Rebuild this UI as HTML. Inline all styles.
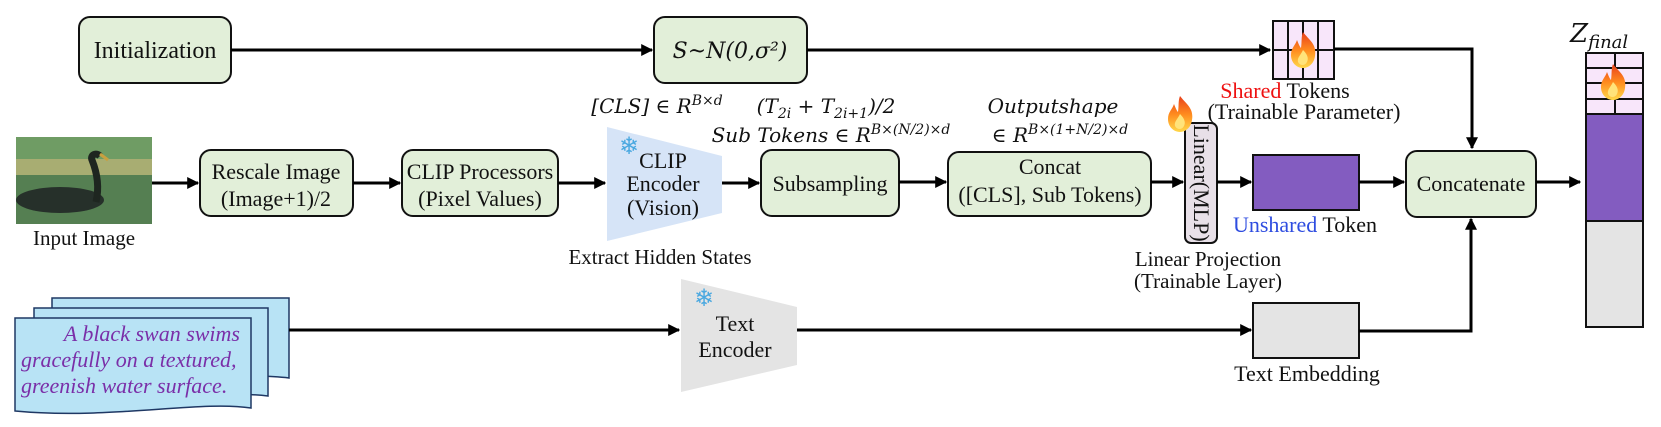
<!DOCTYPE html>
<html><head><meta charset="utf-8"><style>
html,body{margin:0;padding:0;background:#fff}
svg{display:block}
text{font-family:"Liberation Serif","DejaVu Serif",serif;fill:#111}
.m{font-style:italic;font-family:"DejaVu Serif","Liberation Serif",serif}
</style></head><body>
<svg width="1661" height="427" viewBox="0 0 1661 427" xmlns="http://www.w3.org/2000/svg">
<defs>
<marker id="a" viewBox="0 0 10 10" refX="9" refY="5" markerWidth="4" markerHeight="4" orient="auto"><path d="M0,0 L10,5 L0,10 z" fill="#000"/></marker>
<linearGradient id="fl" x1="0" y1="1" x2="0" y2="0"><stop offset="0" stop-color="#ffd84a"/><stop offset="0.5" stop-color="#ff8a1e"/><stop offset="1" stop-color="#e8401c"/></linearGradient>
<g id="flame"><path d="M0,-18 C6,-10 14,-6 12,6 C11,14 5,18 0,18 C-6,18 -12,13 -12,5 C-12,-2 -8,-4 -6,-10 C-4,-5 -3,-3 -2,-2 C-1,-8 -2,-13 0,-18 z" fill="url(#fl)"/><path d="M0,0 C4,4 6,8 4,12 C2,16 -3,16 -5,12 C-6,8 -3,6 0,0 z" fill="#ffe37a"/></g>
</defs>

<!-- top row -->
<rect x="79" y="17" width="152" height="66" rx="11" fill="#e2efd9" stroke="#111" stroke-width="2"/>
<text x="155" y="58" font-size="24" text-anchor="middle">Initialization</text>
<line x1="231" y1="50" x2="652" y2="50" stroke="#000" stroke-width="3" marker-end="url(#a)"/>
<rect x="654" y="17" width="153" height="66" rx="11" fill="#e2efd9" stroke="#111" stroke-width="2"/>
<text x="730" y="58" font-size="22" text-anchor="middle" class="m">S~N(0,σ²)</text>
<line x1="807" y1="50" x2="1270" y2="50" stroke="#000" stroke-width="3" marker-end="url(#a)"/>
<!-- shared grid -->
<rect x="1273" y="21" width="61" height="58" fill="#f8e6fa" stroke="#111" stroke-width="2"/>
<path d="M1288,21V79M1303,21V79M1318,21V79M1273,50H1334" stroke="#111" stroke-width="2"/>
<use href="#flame" x="1303" y="50"/>
<text x="1285" y="98" font-size="22" text-anchor="middle"><tspan style="fill:#ee1111">Shared</tspan> Tokens</text>
<text x="1304" y="119" font-size="22" text-anchor="middle">(Trainable Parameter)</text>
<polyline points="1334,49 1472,49 1472,148" fill="none" stroke="#000" stroke-width="3" marker-end="url(#a)"/>

<!-- math labels -->
<text x="657" y="113" font-size="20" text-anchor="middle" class="m">[CLS] ∈ R<tspan font-size="14" dy="-8">B×d</tspan></text>
<text x="826" y="113" font-size="20" text-anchor="middle" class="m">(T<tspan font-size="14" dy="5">2i</tspan><tspan dy="-5"> + T</tspan><tspan font-size="14" dy="5">2i+1</tspan><tspan dy="-5">)/2</tspan></text>
<text x="831" y="142" font-size="20" text-anchor="middle" class="m">Sub Tokens ∈ R<tspan font-size="14" dy="-8">B×(N/2)×d</tspan></text>
<text x="1053" y="113" font-size="20" text-anchor="middle" class="m">Outputshape</text>
<text x="1060" y="142" font-size="20" text-anchor="middle" class="m">∈ R<tspan font-size="14" dy="-8">B×(1+N/2)×d</tspan></text>

<!-- input image -->
<rect x="16" y="137" width="136" height="87" fill="#5e8a58"/>
<rect x="16" y="137" width="136" height="22" fill="#6f9c64"/>
<rect x="16" y="159" width="136" height="16" fill="#a8ad72"/>
<rect x="16" y="175" width="136" height="49" fill="#557f52"/>
<ellipse cx="60" cy="200" rx="44" ry="13" fill="#26302a"/>
<path d="M96,202 C100,185 96,170 92,160 C90,155 96,152 100,156" stroke="#1e2620" stroke-width="7" fill="none"/>
<path d="M100,154 L108,160" stroke="#c8a040" stroke-width="3"/>
<text x="84" y="245" font-size="21" text-anchor="middle">Input Image</text>
<line x1="152" y1="183" x2="198" y2="183" stroke="#000" stroke-width="3" marker-end="url(#a)"/>

<rect x="200" y="150" width="153" height="66" rx="11" fill="#e2efd9" stroke="#111" stroke-width="2"/>
<text x="276" y="179" font-size="22" text-anchor="middle">Rescale Image</text>
<text x="276" y="206" font-size="22" text-anchor="middle">(Image+1)/2</text>
<line x1="353" y1="183" x2="400" y2="183" stroke="#000" stroke-width="3" marker-end="url(#a)"/>

<rect x="402" y="150" width="156" height="66" rx="11" fill="#e2efd9" stroke="#111" stroke-width="2"/>
<text x="480" y="179" font-size="22" text-anchor="middle">CLIP Processors</text>
<text x="480" y="206" font-size="22" text-anchor="middle">(Pixel Values)</text>
<line x1="558" y1="183" x2="605" y2="183" stroke="#000" stroke-width="3" marker-end="url(#a)"/>

<polygon points="607,127 722,156 722,213 607,241" fill="#d6e4f7"/>
<text x="619" y="154" font-size="24" style="fill:#4aa8e0" font-family="DejaVu Sans">❄</text>
<text x="663" y="168" font-size="22" text-anchor="middle">CLIP</text>
<text x="663" y="191" font-size="22" text-anchor="middle">Encoder</text>
<text x="663" y="215" font-size="22" text-anchor="middle">(Vision)</text>
<text x="660" y="264" font-size="21" text-anchor="middle">Extract Hidden States</text>
<line x1="722" y1="183" x2="759" y2="183" stroke="#000" stroke-width="3" marker-end="url(#a)"/>

<rect x="761" y="150" width="138" height="66" rx="11" fill="#e2efd9" stroke="#111" stroke-width="2"/>
<text x="830" y="191" font-size="22" text-anchor="middle">Subsampling</text>
<line x1="899" y1="182" x2="946" y2="182" stroke="#000" stroke-width="3" marker-end="url(#a)"/>

<rect x="948" y="152" width="203" height="64" rx="11" fill="#e2efd9" stroke="#111" stroke-width="2"/>
<text x="1050" y="174" font-size="22" text-anchor="middle">Concat</text>
<text x="1050" y="202" font-size="22" text-anchor="middle">([CLS], Sub Tokens)</text>
<line x1="1151" y1="182" x2="1183" y2="182" stroke="#000" stroke-width="3" marker-end="url(#a)"/>

<rect x="1185" y="123" width="32" height="120" rx="6" fill="#e8e0e8" stroke="#111" stroke-width="2"/>
<text x="0" y="0" font-size="22" transform="translate(1194,183) rotate(90)" text-anchor="middle">Linear(MLP)</text>
<use href="#flame" x="1180" y="114"/>
<text x="1208" y="266" font-size="21" text-anchor="middle">Linear Projection</text>
<text x="1208" y="288" font-size="21" text-anchor="middle">(Trainable Layer)</text>
<line x1="1217" y1="182" x2="1251" y2="182" stroke="#000" stroke-width="3" marker-end="url(#a)"/>

<rect x="1253" y="155" width="106" height="55" fill="#835cc0" stroke="#111" stroke-width="2"/>
<text x="1305" y="232" font-size="22" text-anchor="middle"><tspan style="fill:#2f4de0">Unshared</tspan> Token</text>
<line x1="1359" y1="182" x2="1404" y2="182" stroke="#000" stroke-width="3" marker-end="url(#a)"/>

<rect x="1406" y="151" width="130" height="66" rx="11" fill="#e2efd9" stroke="#111" stroke-width="2"/>
<text x="1471" y="191" font-size="22" text-anchor="middle">Concatenate</text>
<line x1="1536" y1="182" x2="1580" y2="182" stroke="#000" stroke-width="3" marker-end="url(#a)"/>

<!-- Z final -->
<text x="1570" y="42" font-size="26" class="m">Z<tspan font-size="18" dy="6">final</tspan></text>
<rect x="1586" y="53" width="57" height="61" fill="#f8e6fa" stroke="#111" stroke-width="2"/>
<path d="M1586,68H1643M1586,83H1643M1586,99H1643M1615,53V68M1615,83V99M1615,99V114" stroke="#111" stroke-width="2"/>
<use href="#flame" x="1613" y="82"/>
<rect x="1586" y="114" width="57" height="107" fill="#835cc0" stroke="#111" stroke-width="2"/>
<rect x="1586" y="221" width="57" height="106" fill="#e4e4e4" stroke="#111" stroke-width="2"/>

<!-- text row -->
<path d="M52,298H289V378C240,372 150,382 52,376Z" fill="#b8e3f5" stroke="#1f3864" stroke-width="1.5"/>
<path d="M34,308H268V396C220,390 130,400 34,394Z" fill="#b8e3f5" stroke="#1f3864" stroke-width="1.5"/>
<path d="M15,318H251V408C200,400 110,420 15,411Z" fill="#b8e3f5" stroke="#1f3864" stroke-width="1.5"/>
<text x="240" y="341" font-size="22" text-anchor="end" font-style="italic" style="fill:#7a2fa8">A black swan swims</text>
<text x="21" y="367" font-size="22" font-style="italic" style="fill:#7a2fa8">gracefully on a textured,</text>
<text x="21" y="393" font-size="22" font-style="italic" style="fill:#7a2fa8">greenish water surface.</text>
<line x1="289" y1="330" x2="679" y2="330" stroke="#000" stroke-width="3" marker-end="url(#a)"/>

<polygon points="681,279 797,307 797,365 681,392" fill="#e4e4e4"/>
<text x="694" y="306" font-size="24" style="fill:#4aa8e0" font-family="DejaVu Sans">❄</text>
<text x="735" y="331" font-size="22" text-anchor="middle">Text</text>
<text x="735" y="357" font-size="22" text-anchor="middle">Encoder</text>
<line x1="797" y1="330" x2="1251" y2="330" stroke="#000" stroke-width="3" marker-end="url(#a)"/>
<rect x="1253" y="303" width="106" height="55" fill="#e4e4e4" stroke="#111" stroke-width="2"/>
<text x="1307" y="381" font-size="22" text-anchor="middle">Text Embedding</text>
<polyline points="1359,331 1471,331 1471,219" fill="none" stroke="#000" stroke-width="3" marker-end="url(#a)"/>
</svg>
</body></html>
